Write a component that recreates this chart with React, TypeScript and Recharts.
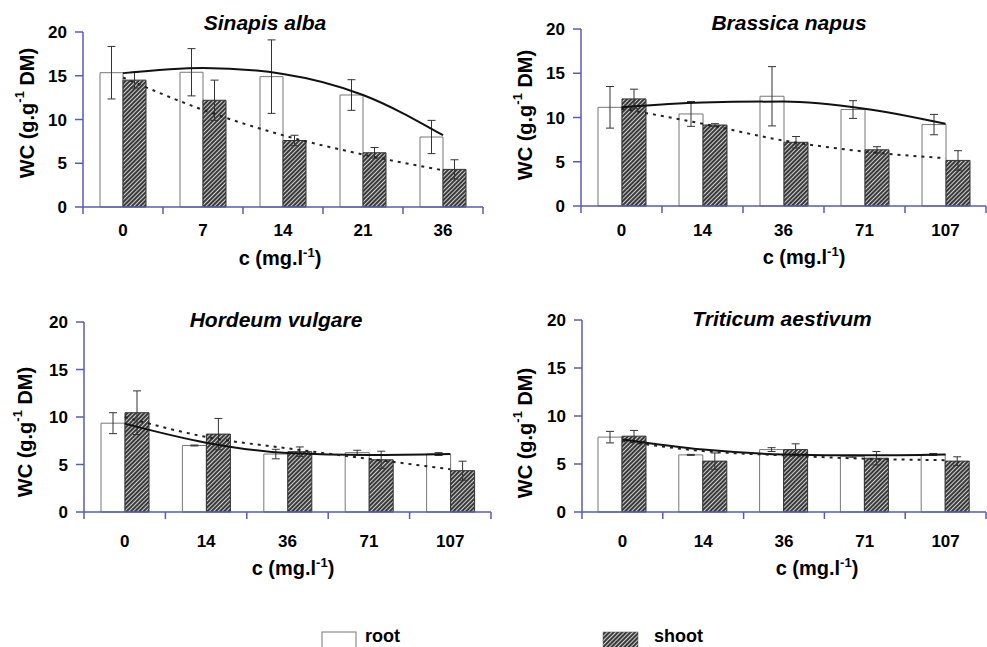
import { Bar, ComposedChart, ErrorBar, Line, XAxis, YAxis } from "recharts";

// water content (g/g DM)
const sinapisConc = ["0", "7", "14", "21", "36"];
const sinapisRoot = [15.35, 15.4, 14.9, 12.8, 8.0];
const sinapisRootErr = [3.0, 2.7, 4.2, 1.75, 1.9];
const sinapisShoot = [14.5, 12.2, 7.6, 6.2, 4.3];
const sinapisShootErr = [0.9, 2.3, 0.6, 0.6, 1.1];
const sinapisRootFit = [15.3, 15.9, 15.2, 12.8, 8.2];
const sinapisShootFit = [14.8, 11.1, 8.2, 6.0, 4.2];

const brassicaConc = ["0", "14", "36", "71", "107"];
const brassicaRoot = [11.15, 10.4, 12.4, 10.9, 9.2];
const brassicaRootErr = [2.35, 1.4, 3.35, 1.0, 1.15];
const brassicaShoot = [12.1, 9.15, 7.2, 6.35, 5.15];
const brassicaShootErr = [1.1, 0.15, 0.65, 0.35, 1.1];
const brassicaRootFit = [11.15, 11.7, 11.8, 11.0, 9.3];
const brassicaShootFit = [11.0, 9.3, 7.4, 6.15, 5.4];

const hordeumConc = ["0", "14", "36", "71", "107"];
const hordeumRoot = [9.35, 7.0, 6.1, 6.25, 6.1];
const hordeumRootErr = [1.1, 0.05, 0.5, 0.25, 0.15];
const hordeumShoot = [10.45, 8.2, 6.35, 5.5, 4.35];
const hordeumShootErr = [2.3, 1.65, 0.5, 0.9, 1.0];
const hordeumRootFit = [9.3, 7.3, 6.2, 6.0, 6.1];
const hordeumShootFit = [10.0, 7.9, 6.7, 5.6, 4.5];

const triticumConc = ["0", "14", "36", "71", "107"];
const triticumRoot = [7.8, 5.95, 6.5, 5.8, 6.0];
const triticumRootErr = [0.6, 0.05, 0.2, 0.1, 0.1];
const triticumShoot = [7.9, 5.3, 6.5, 5.6, 5.3];
const triticumShootErr = [0.6, 0.85, 0.6, 0.7, 0.45];
const triticumRootFit = [7.55, 6.5, 6.0, 5.9, 6.0];
const triticumShootFit = [7.4, 6.35, 5.9, 5.55, 5.4];

const yTicks = [0, 5, 10, 15, 20];

const AXIS = "#5a5ab8";
const FONT = "'Liberation Sans', Arial, sans-serif";

const panels = [
  {
    title: "Sinapis alba",
    conc: sinapisConc, root: sinapisRoot, rootErr: sinapisRootErr,
    shoot: sinapisShoot, shootErr: sinapisShootErr,
    rootFit: sinapisRootFit, shootFit: sinapisShootFit,
    box: { x: 0, y: 0, w: 490, h: 290 },
    plot: { l: 83, t: 32, r: 483, b: 207 },
    barSize: 23, tickGap: 17,
    titleX: 265, titleY: 30, yLabelX: 27, yLabelY: 113, xLabelX: 280, xLabelY: 265,
  },
  {
    title: "Brassica napus",
    conc: brassicaConc, root: brassicaRoot, rootErr: brassicaRootErr,
    shoot: brassicaShoot, shootErr: brassicaShootErr,
    rootFit: brassicaRootFit, shootFit: brassicaShootFit,
    box: { x: 490, y: 0, w: 497, h: 290 },
    plot: { l: 581, t: 29, r: 986, b: 206 },
    barSize: 24, tickGap: 18,
    titleX: 789, titleY: 30, yLabelX: 525, yLabelY: 115, xLabelX: 804, xLabelY: 264,
  },
  {
    title: "Hordeum vulgare",
    conc: hordeumConc, root: hordeumRoot, rootErr: hordeumRootErr,
    shoot: hordeumShoot, shootErr: hordeumShootErr,
    rootFit: hordeumRootFit, shootFit: hordeumShootFit,
    box: { x: 0, y: 300, w: 495, h: 300 },
    plot: { l: 84, t: 322, r: 491, b: 512 },
    barSize: 24, tickGap: 23,
    titleX: 276, titleY: 327, yLabelX: 25, yLabelY: 432, xLabelX: 293, xLabelY: 575,
  },
  {
    title: "Triticum aestivum",
    conc: triticumConc, root: triticumRoot, rootErr: triticumRootErr,
    shoot: triticumShoot, shootErr: triticumShootErr,
    rootFit: triticumRootFit, shootFit: triticumShootFit,
    box: { x: 490, y: 300, w: 497, h: 300 },
    plot: { l: 582, t: 320, r: 986, b: 512 },
    barSize: 24, tickGap: 23,
    titleX: 782, titleY: 326, yLabelX: 525, yLabelY: 433, xLabelX: 817, xLabelY: 575,
  },
];

function Hatch({ id }: { id: string }) {
  return (
    <pattern id={id} width="3" height="3" patternUnits="userSpaceOnUse" patternTransform="rotate(45)">
      <rect width="3" height="3" fill="#3a3a3a" />
      <rect width="1" height="3" fill="#d0d0d0" />
    </pattern>
  );
}

// category label plus the tick marks that sit on the band edges
function ConcTick(props: any) {
  const { x, y, payload, index, visibleTicksCount, band, gap } = props;
  const half = band / 2;
  return (
    <g>
      <line x1={x - half} y1={y} x2={x - half} y2={y + 7} stroke={AXIS} strokeWidth={1.5} />
      {index === visibleTicksCount - 1 && (
        <line x1={x + half} y1={y} x2={x + half} y2={y + 7} stroke={AXIS} strokeWidth={1.5} />
      )}
      <text x={x} y={y + gap} dy="0.71em" textAnchor="middle" fontSize={17} fontWeight="bold" fill="#000" fontFamily={FONT}>
        {payload.value}
      </text>
    </g>
  );
}

function PanelChart({ p, i }: { p: (typeof panels)[number]; i: number }) {
  const rows = p.conc.map((c, k) => ({
    c,
    root: p.root[k],
    rootErr: p.rootErr[k],
    shoot: p.shoot[k],
    shootErr: p.shootErr[k],
    rootFit: p.rootFit[k],
    shootFit: p.shootFit[k],
  }));
  const { box, plot } = p;
  const axisH = 40;
  const band = (plot.r - plot.l) / p.conc.length;
  return (
    <div style={{ position: "absolute", left: box.x, top: box.y }}>
      <ComposedChart
        width={box.w}
        height={box.h}
        data={rows}
        barGap={0}
        barSize={p.barSize}
        margin={{
          top: plot.t - box.y,
          right: box.x + box.w - plot.r,
          left: 0,
          bottom: box.y + box.h - plot.b - axisH,
        }}
      >
        <defs>
          <Hatch id={`hatch-${i}`} />
        </defs>
        <XAxis
          dataKey="c"
          type="category"
          interval={0}
          height={axisH}
          axisLine={{ stroke: AXIS, strokeWidth: 1.5 }}
          tickLine={false}
          tickSize={0}
          tickMargin={0}
          tick={<ConcTick band={band} gap={p.tickGap} />}
        />
        <YAxis
          domain={[0, 20]}
          ticks={yTicks}
          width={plot.l - box.x}
          tickSize={8}
          tickMargin={8}
          axisLine={{ stroke: AXIS, strokeWidth: 1.5 }}
          tickLine={{ stroke: AXIS, strokeWidth: 1.5 }}
          tick={{ fontSize: 17, fontWeight: "bold", fill: "#000", fontFamily: FONT }}
        />
        <Bar dataKey="root" fill="#fff" stroke="#777" strokeWidth={1} isAnimationActive={false}>
          <ErrorBar dataKey="rootErr" width={4} stroke="#333" strokeWidth={1} />
        </Bar>
        <Bar dataKey="shoot" fill={`url(#hatch-${i})`} stroke="#333" strokeWidth={1} isAnimationActive={false}>
          <ErrorBar dataKey="shootErr" width={4} stroke="#333" strokeWidth={1} />
        </Bar>
        <Line type="monotone" dataKey="rootFit" stroke="#111" strokeWidth={2} dot={false} isAnimationActive={false} />
        <Line type="monotone" dataKey="shootFit" stroke="#222" strokeWidth={2} strokeDasharray="3 5" dot={false} isAnimationActive={false} />
      </ComposedChart>
    </div>
  );
}

export default function App() {
  return (
    <div style={{ position: "relative", width: 987, height: 647, background: "#fff", fontFamily: FONT, overflow: "hidden" }}>
      <style>{"body{margin:0}"}</style>
      {panels.map((p, i) => (
        <PanelChart key={p.title} p={p} i={i} />
      ))}
      <svg width={987} height={647} style={{ position: "absolute", left: 0, top: 0, pointerEvents: "none" }} fontFamily={FONT}>
        <defs>
          <Hatch id="hatch-legend" />
        </defs>
        {panels.map((p) => (
          <g key={p.title} fontWeight="bold" fill="#000">
            <text x={p.titleX} y={p.titleY} fontSize={21} fontStyle="italic" textAnchor="middle">
              {p.title}
            </text>
            <text
              transform={`translate(${p.yLabelX},${p.yLabelY}) rotate(-90)`}
              fontSize={20}
              textAnchor="middle"
              dominantBaseline="central"
            >
              WC (g.g<tspan dy={-8} fontSize={13}>-1</tspan>
              <tspan dy={8}> DM)</tspan>
            </text>
            <text x={p.xLabelX} y={p.xLabelY} fontSize={20} textAnchor="middle">
              c (mg.l<tspan dy={-8} fontSize={13}>-1</tspan>
              <tspan dy={8}>)</tspan>
            </text>
          </g>
        ))}
        <rect x={322} y={632} width={34} height={20} fill="#fff" stroke="#777" strokeWidth={1} />
        <text x={365} y={642} fontSize={18} fontWeight="bold">root</text>
        <rect x={603} y={632} width={35} height={20} fill="url(#hatch-legend)" stroke="#555" strokeWidth={0.5} />
        <text x={654} y={642} fontSize={18} fontWeight="bold">shoot</text>
      </svg>
    </div>
  );
}
